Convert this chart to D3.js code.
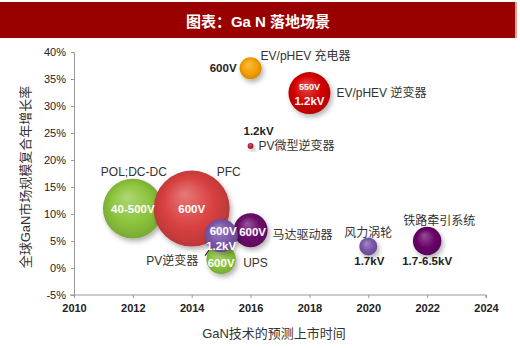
<!DOCTYPE html>
<html><head><meta charset="utf-8">
<script src="https://cdn.jsdelivr.net/npm/d3@7"></script>
<style>
body{margin:0;background:#fff;}
svg{display:block;font-family:"Liberation Sans",Arial,"Noto Sans CJK SC",sans-serif;}
</style></head><body>
<svg id="c" width="520" height="348"></svg>
<script>
// ---- data ----
const names   = ["POL;DC-DC","PFC","UPS","马达驱动器","PV逆变器","EV/pHEV 充电器","EV/pHEV 逆变器","PV微型逆变器","风力涡轮","铁路牵引系统"];
const years   = [2012, 2014, 2015, 2016, 2015, 2016, 2018, 2016, 2020, 2022];
const growth  = [11, 11, 1.6, 7, 6, 37, 32.4, 22.6, 4, 5];
const sizes   = [62, 100, 15, 20, 19, 8.4, 30.5, 0.6, 5.6, 14];
const voltages= [["40-500V"],["600V"],["600V"],["600V"],["600V","1.2kV"],["600V"],["550V","1.2kV"],["1.2kV"],["1.7kV"],["1.7-6.5kV"]];
const xTicks  = [2010,2012,2014,2016,2018,2020,2022,2024];
const yTicks  = [-5,0,5,10,15,20,25,30,35,40];
const title   = "图表：Ga N 落地场景";
const xTitle  = "GaN技术的预测上市时间";
const yTitle  = "全球GaN市场规模复合年增长率";

// ---- styles / layout (not data) ----
const colors = ["#8cc43c","#d94040","#8cc43c","#6a0a6a","#7b55a8","#f5a000","#d40000","#b8203a","#7b55a8","#680068"];
const nameLay = [[1,-37,"middle"],[37,-37,"middle"],[22,4,"start"],[22,5,"start"],[-23,25,"end"],[10,-12,"start"],[27,0,"start"],[8,0,"start"],[0,-13,"middle"],[12,-20,"middle"]];
const voltLay = [ {in:true, pts:[[0,0]]}, {in:true, pts:[[0,0]]}, {in:true, pts:[[0,4]]}, {in:true, pts:[[2,2]]},
  {in:true, pts:[[2,-5],[0,10]]}, {in:false, pts:[[-14,0]], anchor:"end"}, {in:true, pts:[[0,-6],[0,8]], fs:[9,11.5]},
  {in:false, pts:[[8,-15]], anchor:"middle"}, {in:false, pts:[[1,15]], anchor:"middle"}, {in:false, pts:[[0,20]], anchor:"middle"} ];

const svg = d3.select("#c");
const x = d3.scaleLinear().domain([2010,2024]).range([74,486]);
const y = d3.scaleLinear().domain([-5,40]).range([295,52]);
const r = d3.scaleSqrt().domain([0,100]).range([0,38]);

// title bar
svg.append("rect").attr("x",0).attr("y",2).attr("width",515).attr("height",36).attr("fill","#990000");
svg.append("rect").attr("x",515).attr("y",2).attr("width",2).attr("height",36).attr("fill","#e8a0a0");
svg.append("text").attr("x",258).attr("y",21).attr("text-anchor","middle").attr("dominant-baseline","central")
  .attr("fill","#fff").attr("font-weight","bold").attr("font-size",15).text(title);

const defs = svg.append("defs");
const f = defs.append("filter").attr("id","sh").attr("x","-30%").attr("y","-30%").attr("width","170%").attr("height","170%");
f.append("feDropShadow").attr("dx",2).attr("dy",3).attr("stdDeviation",2.5).attr("flood-color","#000").attr("flood-opacity",0.3);
colors.forEach((c,i)=>{
  const g = defs.append("radialGradient").attr("id","g"+i).attr("cx","50%").attr("cy","50%").attr("r","55%").attr("fx","40%").attr("fy","30%");
  const cc = d3.color(c);
  g.append("stop").attr("offset","0%").attr("stop-color",d3.interpolateRgb(c,"#fff")(0.3));
  g.append("stop").attr("offset","60%").attr("stop-color",c);
  g.append("stop").attr("offset","100%").attr("stop-color",cc.darker(0.5));
});

// axes
const ax = svg.append("g").attr("transform",`translate(0,${y(-5)})`)
  .call(d3.axisBottom(x).tickValues(xTicks).tickFormat(d3.format("d")).tickSize(3).tickPadding(6));
const ay = svg.append("g").attr("transform",`translate(${x(2010)},0)`)
  .call(d3.axisLeft(y).tickValues(yTicks).tickFormat(d=>d+"%").tickSize(3).tickPadding(5));
[ax,ay].forEach(a=>{
  a.select(".domain").attr("stroke","#999");
  a.selectAll(".tick line").attr("stroke","#999");
  a.selectAll("text").attr("fill","#222").attr("font-size",11).attr("font-family","\"Liberation Sans\",Arial,sans-serif");
});
ax.selectAll("text").attr("font-weight","bold");
ax.select(".domain").attr("d",`M${x(2010)-4},0H${x(2024)}V3`);

svg.append("text").attr("x",274).attr("y",333).attr("text-anchor","middle").attr("dominant-baseline","central")
  .attr("font-size",13).attr("fill","#333").text(xTitle);
svg.append("text").attr("transform",`translate(25,177) rotate(-90)`).attr("text-anchor","middle").attr("dominant-baseline","central")
  .attr("font-size",13).attr("fill","#333").text(yTitle);

// bubbles
const idx = d3.range(names.length);
const cx = i=>x(years[i]), cy = i=>y(growth[i]);
svg.append("line").attr("x1",cx(4)-16).attr("y1",cy(4)+20).attr("x2",cx(4)-6).attr("y2",cy(4)+6)
  .attr("stroke","#222").attr("stroke-width",1.2);
svg.append("g").selectAll("circle").data(idx).join("circle")
  .attr("cx",cx).attr("cy",cy).attr("r",i=>r(sizes[i]))
  .attr("fill",i=>`url(#g${i})`).attr("filter","url(#sh)");

// names
svg.append("g").selectAll("text").data(idx).join("text")
  .attr("x",i=>cx(i)+nameLay[i][0]).attr("y",i=>cy(i)+nameLay[i][1])
  .attr("text-anchor",i=>nameLay[i][2]).attr("dominant-baseline","central")
  .attr("font-size",12).attr("fill","#333").text(i=>names[i]);

// voltages
idx.forEach(i=>{
  const L = voltLay[i];
  voltages[i].forEach((v,k)=>{
    svg.append("text").attr("x",cx(i)+L.pts[k][0]).attr("y",cy(i)+L.pts[k][1])
      .attr("text-anchor",L.anchor||"middle").attr("dominant-baseline","central")
      .attr("font-weight","bold").attr("font-size",L.fs?L.fs[k]:11.5)
      .attr("fill",L.in?"#fff":"#222").text(v);
  });
});
</script></body></html>
